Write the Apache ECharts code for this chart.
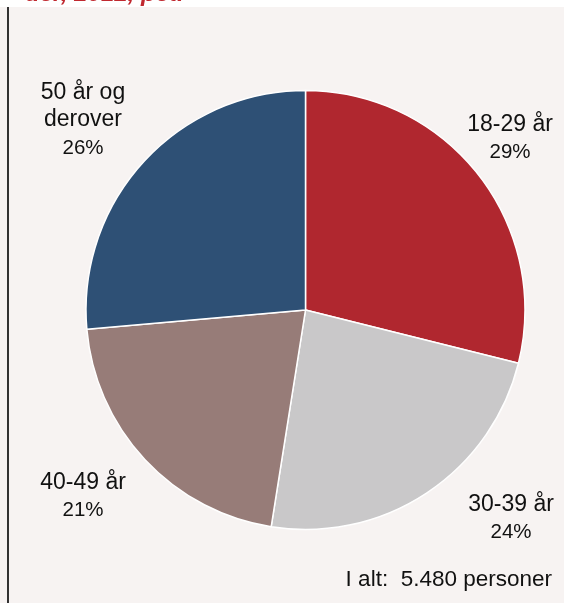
<!DOCTYPE html>
<html>
<head>
<meta charset="utf-8">
<script src="https://cdn.jsdelivr.net/npm/echarts@6/dist/echarts.min.js"></script>
<style>
  html, body { margin: 0; padding: 0; background: #fff; }
  #chart { width: 564px; height: 603px; }
</style>
</head>
<body>
<div id="chart"></div>
<script>
  // aldersgrupper, andel i pct. (slice sizes, labels rounded)
  const categories = ["18-29 år", "30-39 år", "40-49 år", "50 år og\nderover"]
  const shares = [28.9, 23.6, 21.1, 26.4]
  const colors = ["#b0272f", "#c9c8c9", "#977c78", "#2e5075"]
  const total = "I alt:  5.480 personer"

  // label anchors (centre of each text block)
  const labelPos = [
    [510, 139],
    [511, 519],
    [83, 497],
    [83, 121],
  ]

  const chart = echarts.init(document.getElementById("chart"))
  const option = {
    backgroundColor: "#f7f3f2",
    animation: false,
    title: {
      text: "der, 2012, pct.",
      left: 20,
      top: -23,
      textStyle: {
        color: "#c0282f",
        fontSize: 24,
        fontStyle: "italic",
        fontWeight: "bold",
        fontFamily: "Liberation Sans",
      },
      z: 10,
    },
    graphic: [
      {
        type: "rect",
        shape: { x: 0, y: 0, width: 564, height: 7 },
        style: { fill: "#ffffff" },
        z: 5,
      },
      {
        type: "line",
        shape: { x1: 8, y1: 7, x2: 8, y2: 603 },
        style: { stroke: "#000", lineWidth: 1.6 },
      },
      {
        type: "text",
        right: 12,
        top: 568,
        style: {
          text: total,
          fill: "#111",
          font: "22.5px 'Liberation Sans'",
        },
      },
    ],
    series: [
      {
        type: "pie",
        center: [305.5, 310],
        radius: 219.5,
        startAngle: 90,
        clockwise: true,
        itemStyle: { borderColor: "#fff", borderWidth: 1.5 },
        label: {
          show: true,
          position: "inside",
          overflow: "none",
          formatter: (p) => "{a|" + p.name.split("\n").join("}\n{a|") + "}\n{b|" + Math.round(p.value) + "%}",
          rich: {
            a: { fontSize: 23, color: "#111", fontFamily: "Liberation Sans", lineHeight: 27 },
            b: { fontSize: 20.5, color: "#111", fontFamily: "Liberation Sans", lineHeight: 29 },
          },
          align: "center",
        },
        labelLine: { show: false },
        labelLayout: (params) => ({
          x: labelPos[params.dataIndex][0],
          y: labelPos[params.dataIndex][1],
          align: "center",
          verticalAlign: "middle",
        }),
        data: categories.map((c, i) => ({
          name: c,
          value: shares[i],
          itemStyle: { color: colors[i] },
        })),
      },
    ],
  }
  chart.setOption(option)
</script>
</body>
</html>
